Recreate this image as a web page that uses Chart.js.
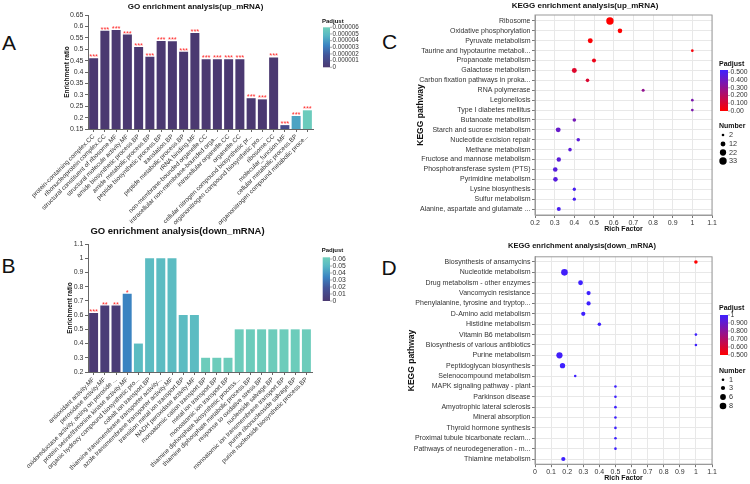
<!DOCTYPE html>
<html>
<head>
<meta charset="utf-8">
<script src="https://cdn.jsdelivr.net/npm/chart.js@4.4.1/dist/chart.umd.min.js"></script>
<style>
  html, body { margin: 0; padding: 0; background: #fff; }
  body { width: 750px; height: 484px; position: relative; overflow: hidden; font-family: "Liberation Sans", Arial, sans-serif; }
  canvas { position: absolute; }
  .tag { position: absolute; font-size: 21px; line-height: 21px; color: #111; }
</style>
</head>
<body>
<div class="tag" style="left:2px;top:32px">A</div>
<div class="tag" style="left:1.5px;top:255px">B</div>
<div class="tag" style="left:382px;top:30.5px">C</div>
<div class="tag" style="left:381.5px;top:257px">D</div>

<canvas id="goUp" width="400" height="230" style="left:0;top:0"></canvas>
<canvas id="goDown" width="400" height="260" style="left:0;top:224px"></canvas>
<canvas id="keggUp" width="350" height="233" style="left:400px;top:0"></canvas>
<canvas id="keggDown" width="350" height="248" style="left:400px;top:236px"></canvas>

<script>
// ---- data ----
const goUpTerms = [
    'protein-containing complex.CC', 'ribonucleoprotein complex.CC', 'structural constituent of ribosome.MF',
    'structural molecule activity.MF', 'amide biosynthetic process.BP', 'amide metabolic process.BP',
    'peptide biosynthetic process.BP', 'translation.BP', 'peptide metabolic process.BP', 'rRNA binding.MF',
    'non-membrane-bounded organelle.CC', 'intracellular non-membrane-bounded orga...', 'intracellular organelle.CC',
    'organelle.CC', 'cellular nitrogen compound biosynthetic pr...', 'organonitrogen compound biosynthetic pro...',
    'ribosome.CC', 'molecular_function.MF', 'cellular metabolic process.BP', 'organonitrogen compound metabolic proce...'
];
const goUpRatio = [0.460, 0.581, 0.584, 0.564, 0.510, 0.467, 0.536, 0.535, 0.489, 0.571,
    0.456, 0.456, 0.456, 0.456, 0.285, 0.280, 0.464, 0.167, 0.207, 0.232];
const goUpPadj = [0, 0, 0, 0, 0, 0, 0, 0, 0, 0,
    0, 0, 0, 0, 0, 0, 0, 0.0000012, 0.0000042, 0.0000058];
const goUpStars = ['***', '***', '***', '***', '***', '***', '***', '***', '***', '***',
    '***', '***', '***', '***', '***', '***', '***', '***', '***', '***'];
const goUpLegendTicks = [0, 0.000001, 0.000002, 0.000003, 0.000004, 0.000005, 0.000006];
const goUpLegendLabels = ['0', '0.000001', '0.000002', '0.000003', '0.000004', '0.000005', '0.000006'];

const goDownTerms = [
    'antioxidant activity.MF', 'peroxidase activity.MF', 'oxidoreductase activity, acting on peroxide ...',
    'protein serine/threonine kinase activity.MF', 'organic hydroxy compound biosynthetic pro...',
    'cobalt ion transport.BP', 'thiamine transmembrane transporter activity...', 'azole transmembrane transporter activity.MF',
    'transition metal ion transport.BP', 'NADH peroxidase activity.MF', 'monoatomic cation transport.BP',
    'metal ion transport.BP', 'monoatomic ion transport.BP', 'thiamine diphosphate biosynthetic process...',
    'thiamine diphosphate metabolic process.BP', 'response to oxidative stress.BP', 'nucleoside salvage.BP',
    'monoatomic ion transmembrane transport.BP', 'purine ribonucleoside salvage.BP', 'purine nucleoside biosynthetic process.BP'
];
const goDownRatio = [0.615, 0.667, 0.667, 0.75, 0.4, 1, 1, 1, 0.6, 0.6,
    0.3, 0.3, 0.3, 0.5, 0.5, 0.5, 0.5, 0.5, 0.5, 0.5];
const goDownPadj = [0.001, 0.003, 0.003, 0.034, 0.052, 0.052, 0.052, 0.052, 0.052, 0.052,
    0.061, 0.061, 0.061, 0.061, 0.061, 0.061, 0.061, 0.061, 0.061, 0.061];
const goDownStars = ['***', '**', '**', '*', '', '', '', '', '', '', '', '', '', '', '', '', '', '', '', ''];
const goDownLegendTicks = [0, 0.01, 0.02, 0.03, 0.04, 0.05, 0.06];
const goDownLegendLabels = ['0', '0.01', '0.02', '0.03', '0.04', '0.05', '0.06'];

const keggUpTerms = [
    'Ribosome', 'Oxidative phosphorylation', 'Pyruvate metabolism', 'Taurine and hypotaurine metaboli...',
    'Propanoate metabolism', 'Galactose metabolism', 'Carbon fixation pathways in proka...', 'RNA polymerase',
    'Legionellosis', 'Type I diabetes mellitus', 'Butanoate metabolism', 'Starch and sucrose metabolism',
    'Nucleotide excision repair', 'Methane metabolism', 'Fructose and mannose metabolism',
    'Phosphotransferase system (PTS)', 'Pyrimidine metabolism', 'Lysine biosynthesis', 'Sulfur metabolism',
    'Alanine, aspartate and glutamate ...'
];
const keggUpRich = [0.581, 0.632, 0.481, 1.0, 0.5, 0.4, 0.467, 0.75, 1.0, 1.0,
    0.4, 0.318, 0.42, 0.378, 0.321, 0.303, 0.304, 0.4, 0.4, 0.321];
const keggUpCount = [33, 10, 12, 2, 7, 12, 5, 3, 2, 2, 5, 12, 5, 5, 9, 10, 10, 4, 4, 7];
const keggUpPadj = [0, 0.003, 0.01, 0.02, 0.05, 0.09, 0.1, 0.3, 0.36, 0.36,
    0.38, 0.42, 0.45, 0.45, 0.45, 0.46, 0.46, 0.5, 0.5, 0.5];
const keggUpLegendTicks = [0.5, 0.4, 0.3, 0.2, 0.1, 0];
const keggUpLegendLabels = ['0.500', '0.400', '0.300', '0.200', '0.100', '0.00'];
const keggUpSizeTicks = [2, 12, 22, 33];

const keggDownTerms = [
    'Biosynthesis of ansamycins', 'Nucleotide metabolism', 'Drug metabolism - other enzymes', 'Vancomycin resistance',
    'Phenylalanine, tyrosine and tryptop...', 'D-Amino acid metabolism', 'Histidine metabolism', 'Vitamin B6 metabolism',
    'Biosynthesis of various antibiotics', 'Purine metabolism', 'Peptidoglycan biosynthesis', 'Selenocompound metabolism',
    'MAPK signaling pathway - plant', 'Parkinson disease', 'Amyotrophic lateral sclerosis', 'Mineral absorption',
    'Thyroid hormone synthesis', 'Proximal tubule bicarbonate reclam...', 'Pathways of neurodegeneration - m...',
    'Thiamine metabolism'
];
const keggDownRich = [1.0, 0.183, 0.283, 0.333, 0.333, 0.3, 0.4, 1.0, 1.0, 0.152,
    0.171, 0.25, 0.5, 0.5, 0.5, 0.5, 0.5, 0.5, 0.5, 0.176];
const keggDownCount = [2, 8, 4, 3, 3, 3, 2, 1, 1, 7, 5, 1, 1, 1, 1, 1, 1, 1, 1, 3];
const keggDownPadj = [0.5, 0.99, 1, 1, 1, 1, 1, 1, 1, 0.99, 1, 1, 1, 1, 1, 1, 1, 1, 1, 1];
const keggDownLegendTicks = [1, 0.9, 0.8, 0.7, 0.6, 0.5];
const keggDownLegendLabels = ['1', '0.900', '0.800', '0.700', '0.600', '0.500'];
const keggDownSizeTicks = [1, 3, 6, 8];

// ---- colours ----
const goStops = [[0, [75, 57, 113]], [0.3, [67, 84, 152]], [0.55, [59, 132, 194]], [0.8, [88, 184, 196]], [1, [111, 207, 186]]];
const keggStops = [[0, [255, 0, 0]], [1, [62, 32, 255]]];

function rampColor(stops, t) {
    t = Math.max(0, Math.min(1, t));
    for (let i = 1; i < stops.length; i++) {
        if (t <= stops[i][0]) {
            const [t0, c0] = stops[i - 1];
            const [t1, c1] = stops[i];
            const f = (t - t0) / (t1 - t0);
            const c = c0.map((v, k) => Math.round(v + (c1[k] - v) * f));
            return `rgb(${c[0]},${c[1]},${c[2]})`;
        }
    }
    const c = stops[stops.length - 1][1];
    return `rgb(${c[0]},${c[1]},${c[2]})`;
}
const palettes = { go: goStops, kegg: keggStops };

const FONT = '"Liberation Sans", Arial, Helvetica, sans-serif';
Chart.defaults.font.family = FONT;
Chart.defaults.color = '#333';
Chart.defaults.animation = false;
Chart.defaults.plugins.legend.display = false;
Chart.defaults.plugins.tooltip.enabled = false;

const fmt = v => String(+(+v).toFixed(3));

// ---- plugins ----
const panelTitle = {
    id: 'panelTitle',
    afterDraw(chart, args, o) {
        const ctx = chart.ctx;
        ctx.save();
        ctx.font = `bold ${o.size}px ${FONT}`;
        ctx.fillStyle = '#111';
        ctx.textAlign = 'center';
        ctx.textBaseline = 'middle';
        ctx.fillText(o.text, o.x, o.y);
        ctx.restore();
    }
};

const colorBar = {
    id: 'colorBar',
    afterDraw(chart, args, o) {
        const ctx = chart.ctx;
        const stops = palettes[o.palette];
        ctx.save();
        ctx.font = `bold ${o.titleSize}px ${FONT}`;
        ctx.fillStyle = '#111';
        ctx.textAlign = 'left';
        ctx.textBaseline = 'middle';
        ctx.fillText('Padjust', o.x - 1, o.titleY);

        const g = ctx.createLinearGradient(0, o.y + o.h, 0, o.y);
        for (let i = 0; i <= 20; i++) g.addColorStop(i / 20, rampColor(stops, i / 20));
        ctx.fillStyle = g;
        ctx.fillRect(o.x, o.y, o.w, o.h);

        ctx.font = `${o.labelSize}px ${FONT}`;
        ctx.fillStyle = '#333';
        ctx.strokeStyle = '#777';
        ctx.lineWidth = 0.6;
        o.ticks.forEach((v, i) => {
            const ty = o.y + o.h - (v - o.min) / (o.max - o.min) * o.h;
            ctx.beginPath();
            ctx.moveTo(o.x + o.w, ty);
            ctx.lineTo(o.x + o.w + 2, ty);
            ctx.stroke();
            ctx.fillText(o.labels[i], o.x + o.w + 2.5, ty);
        });

        if (o.sizes) {
            ctx.font = `bold ${o.titleSize}px ${FONT}`;
            ctx.fillStyle = '#111';
            ctx.fillText('Number', o.x - 1, o.sizeTitleY);
            ctx.font = `${o.labelSize + 0.5}px ${FONT}`;
            o.sizes.forEach((n, i) => {
                const cy = o.sizeY[i];
                ctx.beginPath();
                ctx.arc(o.x + 3, cy, o.sizeA + o.sizeB * Math.sqrt(n), 0, Math.PI * 2);
                ctx.fillStyle = '#000';
                ctx.fill();
                ctx.fillStyle = '#333';
                ctx.fillText(String(n), o.x + 9, cy);
            });
        }
        ctx.restore();
    }
};

// significance asterisks sit just above each bar top
const starMarks = {
    id: 'starMarks',
    afterDatasetsDraw(chart, args, o) {
        const ctx = chart.ctx;
        const meta = chart.getDatasetMeta(0);
        ctx.save();
        ctx.font = `7.5px ${FONT}`;
        ctx.fillStyle = '#ff2d2d';
        ctx.textAlign = 'center';
        ctx.textBaseline = 'alphabetic';
        meta.data.forEach((bar, i) => {
            if (o.marks[i]) ctx.fillText(o.marks[i], bar.x, bar.y + 1);
        });
        ctx.restore();
    }
};

const frameBox = {
    id: 'frameBox',
    beforeDatasetsDraw(chart) {
        const { ctx, chartArea: a } = chart;
        ctx.save();
        ctx.strokeStyle = '#9a9a9a';
        ctx.lineWidth = 1;
        ctx.strokeRect(a.left, a.top, a.right - a.left, a.bottom - a.top);
        ctx.restore();
    }
};

// ---- GO bar charts ----
function goBarChart(id, terms, ratio, padj, padjMax, stars, cfg) {
    return new Chart(document.getElementById(id), {
        type: 'bar',
        data: {
            labels: terms,
            datasets: [{
                data: ratio,
                backgroundColor: padj.map(p => rampColor(goStops, p / padjMax)),
                barPercentage: 0.8,
                categoryPercentage: 1
            }]
        },
        options: {
            responsive: false,
            layout: { padding: cfg.padding },
            scales: {
                x: {
                    grid: { display: true, drawOnChartArea: false, offset: false, tickLength: 3, color: '#666' },
                    border: { color: '#666' },
                    ticks: { autoSkip: false, minRotation: 45, maxRotation: 45, padding: 1, color: '#333', font: { size: 6.3 } },
                    afterFit: s => { s.height = cfg.xHeight; }
                },
                y: {
                    min: cfg.yMin, max: cfg.yMax,
                    grid: { display: true, drawOnChartArea: false, tickLength: 3, color: '#666' },
                    border: { color: '#666' },
                    ticks: { stepSize: cfg.yStep, padding: 1.5, color: '#333', font: { size: 7 }, callback: fmt },
                    title: { display: true, text: 'Enrichment ratio', color: '#111', padding: 0, font: { size: 6.5, weight: 'bold' } },
                    afterFit: s => { s.width = cfg.yWidth; }
                }
            },
            plugins: {
                panelTitle: cfg.title,
                colorBar: cfg.legend,
                starMarks: { marks: stars }
            }
        },
        plugins: [panelTitle, colorBar, starMarks]
    });
}

goBarChart('goUp', goUpTerms, goUpRatio, goUpPadj, 0.000006, goUpStars, {
    padding: { left: 63, top: 15, right: 87, bottom: 0 },
    xHeight: 101, yWidth: 25, yMin: 0.15, yMax: 0.65, yStep: 0.05,
    title: { text: 'GO enrichment analysis(up_mRNA)', x: 195.5, y: 7, size: 8 },
    legend: { palette: 'go', x: 323, y: 27.3, w: 7, h: 40, titleY: 21, titleSize: 6, labelSize: 6.3,
        min: 0, max: 0.000006, ticks: goUpLegendTicks, labels: goUpLegendLabels }
});

goBarChart('goDown', goDownTerms, goDownRatio, goDownPadj, 0.0625, goDownStars, {
    padding: { left: 66.8, top: 20, right: 88, bottom: 0 },
    xHeight: 112, yWidth: 21.2, yMin: 0.2, yMax: 1.1, yStep: 0.1,
    title: { text: 'GO enrichment analysis(down_mRNA)', x: 177.5, y: 7, size: 9.5 },
    legend: { palette: 'go', x: 322.7, y: 33.3, w: 7.3, h: 43.7, titleY: 26, titleSize: 6, labelSize: 6.8,
        min: 0, max: 0.0625, ticks: goDownLegendTicks, labels: goDownLegendLabels }
});

// ---- KEGG bubble charts ----
function keggBubbleChart(id, terms, rich, count, padj, cfg) {
    const lg = cfg.legend;
    return new Chart(document.getElementById(id), {
        type: 'bubble',
        data: {
            datasets: [{
                data: terms.map((t, i) => ({ x: rich[i], y: i, r: lg.sizeA + lg.sizeB * Math.sqrt(count[i]) })),
                backgroundColor: padj.map(p => rampColor(keggStops, (p - lg.min) / (lg.max - lg.min))),
                borderWidth: 0
            }]
        },
        options: {
            responsive: false,
            clip: false,
            layout: { padding: cfg.padding },
            scales: {
                x: {
                    type: 'linear', min: cfg.xMin, max: 1.1,
                    grid: { color: '#e8e8e8', tickColor: '#777', tickLength: 3 },
                    border: { color: '#9a9a9a' },
                    ticks: { stepSize: 0.1, padding: 1, color: '#333', font: { size: 7 }, callback: fmt },
                    title: { display: true, text: 'Rich Factor', color: '#111', padding: 0, font: { size: 7, weight: 'bold' } },
                    afterFit: s => { s.height = cfg.xHeight; }
                },
                y: {
                    type: 'linear', reverse: true, min: cfg.yPad * -1, max: terms.length - 1 + cfg.yPad,
                    afterBuildTicks: s => { s.ticks = terms.map((t, i) => ({ value: i })); },
                    grid: { color: '#e8e8e8', tickColor: '#777', tickLength: 3 },
                    border: { color: '#9a9a9a' },
                    ticks: { autoSkip: false, padding: 1.5, color: '#333', font: { size: 7 }, callback: v => terms[v] },
                    title: { display: true, text: 'KEGG pathway', color: '#111', padding: 0, font: { size: 8.5, weight: 'bold' } },
                    afterFit: s => { s.width = cfg.yWidth; }
                }
            },
            plugins: {
                panelTitle: cfg.title,
                colorBar: lg
            }
        },
        plugins: [frameBox, panelTitle, colorBar]
    });
}

keggBubbleChart('keggUp', keggUpTerms, keggUpRich, keggUpCount, keggUpPadj, {
    padding: { left: 16, top: 15, right: 38, bottom: 0 },
    xMin: 0.2, xHeight: 18, yWidth: 119, yPad: 0.6,
    title: { text: 'KEGG enrichment analysis(up_mRNA)', x: 185, y: 5.5, size: 8 },
    legend: { palette: 'kegg', x: 320, y: 70, w: 8, h: 41, titleY: 64, titleSize: 7, labelSize: 6.8,
        min: 0, max: 0.53, ticks: keggUpLegendTicks, labels: keggUpLegendLabels,
        sizes: keggUpSizeTicks, sizeTitleY: 126, sizeY: [135, 144, 152.5, 161], sizeA: 0.55, sizeB: 0.55 }
});

keggBubbleChart('keggDown', keggDownTerms, keggDownRich, keggDownCount, keggDownPadj, {
    padding: { left: 7, top: 20.8, right: 38, bottom: 2 },
    xMin: 0, xHeight: 17.8, yWidth: 128, yPad: 0.5,
    title: { text: 'KEGG enrichment analysis(down_mRNA)', x: 182, y: 10, size: 7.5 },
    legend: { palette: 'kegg', x: 320, y: 79, w: 8, h: 40, titleY: 72, titleSize: 7, labelSize: 6.8,
        min: 0.5, max: 1, ticks: keggDownLegendTicks, labels: keggDownLegendLabels,
        sizes: keggDownSizeTicks, sizeTitleY: 135, sizeY: [143.7, 152, 161, 170], sizeA: 0.2, sizeB: 1.1 }
});
</script>
</body>
</html>
